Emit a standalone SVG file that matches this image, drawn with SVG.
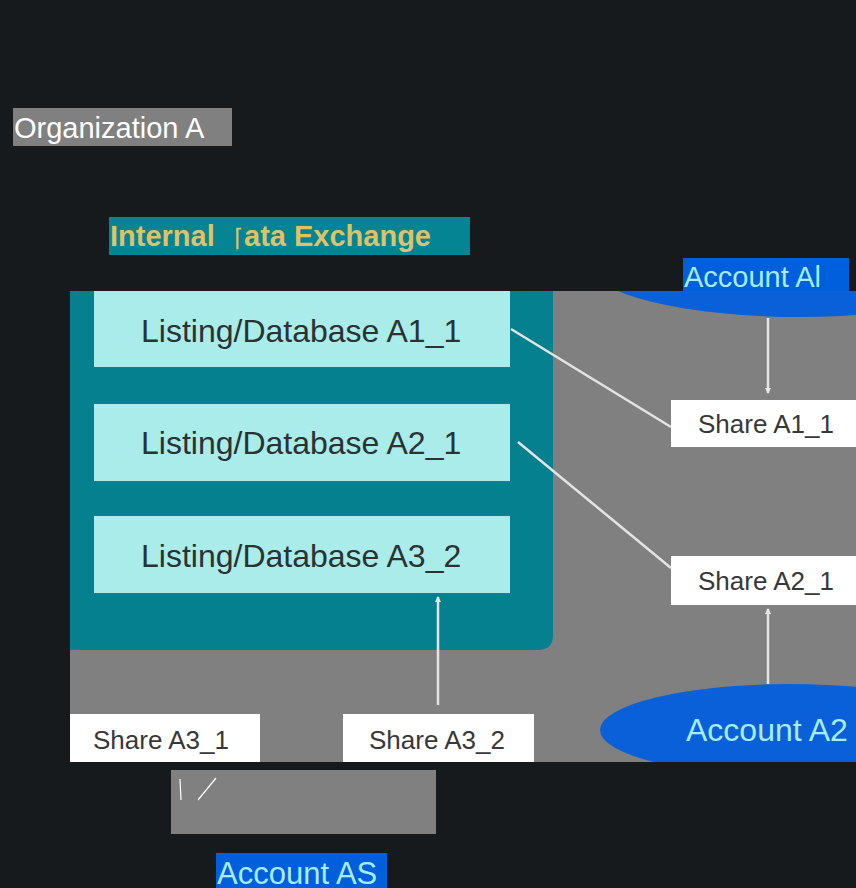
<svg xmlns="http://www.w3.org/2000/svg" width="856" height="888" viewBox="0 0 856 888">
<defs>
<clipPath id="photo"><rect x="70" y="291" width="786" height="471"/></clipPath>
<marker id="ah" markerWidth="6" markerHeight="6" refX="5" refY="3" orient="auto" markerUnits="userSpaceOnUse"><path d="M0,0 L6,3 L0,6 z" fill="#e6e6e6"/></marker>
</defs>
<style>
.lbl{font-family:"Liberation Sans",Arial,sans-serif;}
.list{fill:#a9ecea;}
.listt{font-family:"Liberation Sans",Arial,sans-serif;font-size:32px;fill:#2b3232;}
.share{fill:#ffffff;}
.sharet{font-family:"Liberation Sans",Arial,sans-serif;font-size:26px;fill:#383838;}
.acct{font-family:"Liberation Sans",Arial,sans-serif;fill:#a8ecf8;}
.conn{stroke:#e4e4e4;stroke-width:2.5;fill:none;}
</style>
<rect width="856" height="888" fill="#171a1d"/>
<g id="org-label">
<rect x="13" y="108" width="219" height="38" fill="#808080"/>
<text class="lbl" x="14" y="138" font-size="29" fill="#ffffff">Organization A</text>
</g>
<g id="ide-label">
<rect x="109" y="217" width="361" height="38" fill="#058494"/>
<text class="lbl" y="246" font-size="29" font-weight="bold" fill="#dcc36a"><tspan x="110">Internal</tspan><tspan x="234" font-weight="normal" font-size="24">⌈</tspan><tspan x="244">ata Exchange</tspan></text>
</g>
<g clip-path="url(#photo)">
<rect x="70" y="291" width="786" height="471" fill="#808080"/>
<path d="M40,260 H553 V635 Q553,650 538,650 H40 z" fill="#05808f"/>
<g id="account-a1"><ellipse cx="800" cy="265" rx="210" ry="52" fill="#0a60d8"/></g>
<g id="account-a2"><ellipse cx="790" cy="730" rx="190" ry="46" fill="#0a60d8"/>
<text class="acct" x="686" y="741" font-size="32">Account A2</text></g>
<g id="listing-a1-1"><rect class="list" x="94" y="285" width="416" height="82"/>
<text class="listt" x="141" y="342">Listing/Database A1_1</text></g>
<g id="listing-a2-1"><rect class="list" x="94" y="404" width="416" height="77"/>
<text class="listt" x="141" y="454">Listing/Database A2_1</text></g>
<g id="listing-a3-2"><rect class="list" x="94" y="516" width="416" height="77"/>
<text class="listt" x="141" y="567">Listing/Database A3_2</text></g>
<g id="share-a1-1"><rect class="share" x="671" y="400" width="190" height="47"/>
<text class="sharet" x="698" y="433">Share A1_1</text></g>
<g id="share-a2-1"><rect class="share" x="671" y="556" width="190" height="49"/>
<text class="sharet" x="698" y="590">Share A2_1</text></g>
<g id="share-a3-1"><rect class="share" x="66" y="714" width="194" height="52"/>
<text class="sharet" x="93" y="749">Share A3_1</text></g>
<g id="share-a3-2"><rect class="share" x="343" y="714" width="191" height="52"/>
<text class="sharet" x="369" y="749">Share A3_2</text></g>
<g id="connectors">
<line class="conn" x1="768" y1="318" x2="768" y2="393" marker-end="url(#ah)"/>
<line class="conn" x1="511" y1="329" x2="671" y2="427"/>
<line class="conn" x1="518" y1="442" x2="671" y2="568"/>
<line class="conn" x1="768" y1="684" x2="768" y2="609" marker-end="url(#ah)"/>
<line class="conn" x1="438" y1="705" x2="438" y2="597" marker-end="url(#ah)"/>
</g>
</g>
<g id="account-a1-label">
<rect x="683" y="258" width="166" height="33" fill="#005fdc"/>
<text class="acct" x="684" y="287" font-size="29">Account Al</text>
</g>
<g id="gray-box">
<rect x="171" y="770" width="265" height="64" fill="#808080"/>
<line x1="180" y1="779" x2="181" y2="800" stroke="#ffffff" stroke-width="1.2"/>
<line x1="198" y1="800" x2="216" y2="778" stroke="#ffffff" stroke-width="1.2"/>
</g>
<g id="account-as-label">
<rect x="216" y="853" width="171" height="35" fill="#005fdc"/>
<text class="acct" x="217" y="884" font-size="31">Account AS</text>
</g>
</svg>
